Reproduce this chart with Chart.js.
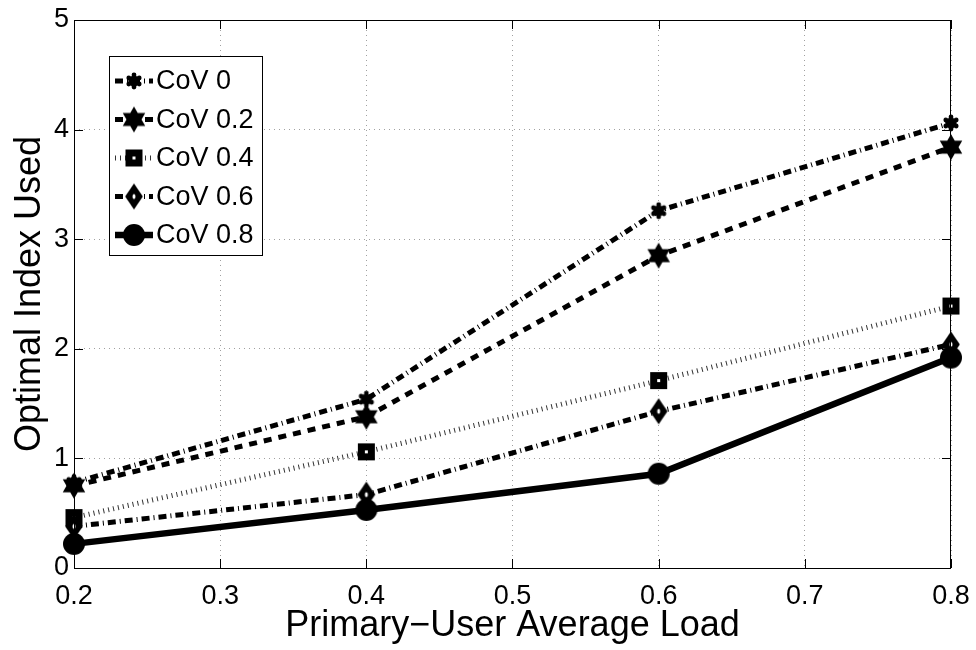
<!DOCTYPE html>
<html>
<head>
<meta charset="utf-8">
<script src="https://cdn.jsdelivr.net/npm/chart.js@4"></script>
<style>
  html, body { margin: 0; padding: 0; background: #fff; }
  #wrap { width: 976px; height: 650px; }
</style>
</head>
<body>
<div id="wrap"><canvas id="loadChart" width="976" height="650"></canvas></div>
<script>
// values
const loads = [0.2, 0.4, 0.6, 0.8];
const cov0 = [0.78, 1.54, 3.26, 4.06];
const cov02 = [0.75, 1.38, 2.85, 3.84];
const cov04 = [0.46, 1.06, 1.71, 2.39];
const cov06 = [0.38, 0.67, 1.43, 2.04];
const cov08 = [0.22, 0.53, 0.86, 1.92];
const seriesNames = ['CoV 0', 'CoV 0.2', 'CoV 0.4', 'CoV 0.6', 'CoV 0.8'];
const xTicks = [0.2, 0.3, 0.4, 0.5, 0.6, 0.7, 0.8];
const yTicks = [0, 1, 2, 3, 4, 5];

const FONT = "'Liberation Sans', Arial, Helvetica, sans-serif";

// marker images, MATLAB style
function makeMarker(kind, size) {
  const c = document.createElement('canvas');
  const s = size * 2 + 4;
  c.width = s; c.height = s;
  const g = c.getContext('2d');
  const m = s / 2;
  g.fillStyle = '#000';
  g.beginPath();
  if (kind === 'hexagram') {
    for (let t = 0; t < 2; t++) {
      const rot = t === 0 ? -Math.PI / 2 : Math.PI / 2;
      for (let k = 0; k < 3; k++) {
        const a = rot + k * 2 * Math.PI / 3;
        const px = m + size * Math.cos(a), py = m + size * Math.sin(a);
        if (k === 0) g.moveTo(px, py); else g.lineTo(px, py);
      }
      g.closePath();
    }
    g.fill();
  } else if (kind === 'blob') {
    // small rounded hexagram, like the CoV 0 marker
    g.arc(m, m, size * 0.7, 0, Math.PI * 2);
    g.fill();
    g.beginPath();
    for (let k = 0; k < 6; k++) {
      const a = -Math.PI / 2 + k * Math.PI / 3;
      g.moveTo(m, m);
      g.arc(m + size * 0.75 * Math.cos(a), m + size * 0.75 * Math.sin(a), size * 0.3, 0, Math.PI * 2);
    }
    g.fill();
  } else if (kind === 'square') {
    g.fillRect(m - size, m - size, size * 2, size * 2);
    g.fillStyle = '#fff';
    g.fillRect(m - 1.5, m - 1.5, 3, 3);
  } else if (kind === 'diamond') {
    g.moveTo(m, m - size);
    g.lineTo(m + size * 0.68, m);
    g.lineTo(m, m + size);
    g.lineTo(m - size * 0.68, m);
    g.closePath();
    g.fill();
    g.fillStyle = '#fff';
    g.beginPath();
    g.ellipse(m, m, 1.5, 2.5, 0, 0, Math.PI * 2);
    g.fill();
  } else {
    g.arc(m, m, size, 0, Math.PI * 2);
    g.fill();
  }
  return c;
}

const markers = [
  makeMarker('blob', 8),
  makeMarker('hexagram', 13),
  makeMarker('square', 8.5),
  makeMarker('diamond', 13),
  makeMarker('circle', 11)
];
const dashes = [
  [8, 4, 1, 4],
  [8, 7],
  [1, 4],
  [8, 4, 1, 4],
  []
];
const widths = [5, 5, 5, 5, 6.5];
const values = [cov0, cov02, cov04, cov06, cov08];

const datasets = values.map((vals, i) => ({
  label: seriesNames[i],
  data: loads.map((x, j) => ({ x: x, y: vals[j] })),
  borderColor: i === 2 ? '#333' : '#000',
  backgroundColor: '#000',
  borderWidth: widths[i],
  borderDash: dashes[i],
  pointStyle: markers[i],
  pointRadius: 10,
  pointHoverRadius: 10,
  tension: 0,
  fill: false,
  clip: false,
  order: 5 - i
}));

// box, inward ticks and the legend drawn like the MATLAB figure
const matlabFrame = {
  id: 'matlabFrame',
  afterDatasetsDraw(chart) {
    const { ctx, chartArea: a, scales } = chart;
    ctx.save();
    ctx.strokeStyle = '#000';
    ctx.lineWidth = 1;
    ctx.setLineDash([]);
    ctx.strokeRect(a.left + 0.5, a.top + 0.5, a.right - a.left - 1, a.bottom - a.top);
    const tl = 9;
    ctx.beginPath();
    xTicks.forEach(v => {
      const px = Math.round(scales.x.getPixelForValue(v)) + 0.5;
      ctx.moveTo(px, a.bottom); ctx.lineTo(px, a.bottom - tl);
      ctx.moveTo(px, a.top); ctx.lineTo(px, a.top + tl);
    });
    yTicks.forEach(v => {
      const py = Math.round(scales.y.getPixelForValue(v)) + 0.5;
      ctx.moveTo(a.left, py); ctx.lineTo(a.left + tl, py);
      ctx.moveTo(a.right, py); ctx.lineTo(a.right - tl, py);
    });
    ctx.stroke();

    // legend
    const lx = a.left + 35, ly = a.top + 36, lw = 153, lh = 199;
    ctx.fillStyle = '#fff';
    ctx.fillRect(lx, ly, lw, lh);
    ctx.strokeRect(lx + 0.5, ly + 0.5, lw, lh);
    ctx.font = '27px ' + FONT;
    ctx.textBaseline = 'middle';
    ctx.textAlign = 'left';
    chart.data.datasets.forEach((ds, i) => {
      const yy = ly + 25 + i * 38.5;
      ctx.strokeStyle = ds.borderColor;
      ctx.lineWidth = ds.borderWidth;
      ctx.setLineDash(ds.borderDash);
      ctx.beginPath();
      ctx.moveTo(lx + 6, yy);
      ctx.lineTo(lx + 44, yy);
      ctx.stroke();
      const img = ds.pointStyle;
      ctx.drawImage(img, lx + 25 - img.width / 2, yy - img.height / 2);
      ctx.fillStyle = '#000';
      ctx.fillText(ds.label, lx + 47, yy + 1);
    });
    ctx.restore();
  }
};

const ctx = document.getElementById('loadChart').getContext('2d');
const loadChart = new Chart(ctx, {
  type: 'line',
  data: { datasets: datasets },
  plugins: [matlabFrame],
  options: {
    responsive: false,
    animation: false,
    layout: { padding: { top: 20, right: 25, left: 0, bottom: 0 } },
    plugins: {
      legend: { display: false },
      tooltip: { enabled: false }
    },
    scales: {
      x: {
        type: 'linear',
        min: 0.2,
        max: 0.8,
        afterBuildTicks: axis => { axis.ticks = xTicks.map(v => ({ value: v })); },
        afterFit: axis => {
          axis.height = 82;
          axis.paddingLeft = 0;
          axis.paddingRight = 0;
        },
        ticks: {
          color: '#000',
          font: { family: FONT, size: 27 },
          padding: 12,
          maxRotation: 0,
          callback: v => v.toFixed(1)
        },
        grid: {
          color: '#a0a0a0',
          lineWidth: 1,
          drawTicks: false
        },
        border: { display: false, dash: [1, 4] },
        title: {
          display: true,
          text: 'Primary−User Average Load',
          color: '#000',
          font: { family: FONT, size: 36 },
          padding: { top: 0, bottom: 2 }
        }
      },
      y: {
        min: 0,
        max: 5,
        afterBuildTicks: axis => { axis.ticks = yTicks.map(v => ({ value: v })); },
        afterFit: axis => {
          axis.width = 74;
          axis.paddingTop = 0;
          axis.paddingBottom = 0;
        },
        ticks: {
          color: '#000',
          font: { family: FONT, size: 27 },
          padding: 5
        },
        grid: {
          color: '#a0a0a0',
          lineWidth: 1,
          drawTicks: false
        },
        border: { display: false, dash: [1, 4] },
        title: {
          display: true,
          text: 'Optimal Index Used',
          color: '#000',
          font: { family: FONT, size: 36 },
          padding: { top: 8, bottom: 0 }
        }
      }
    }
  }
});
</script>
</body>
</html>
